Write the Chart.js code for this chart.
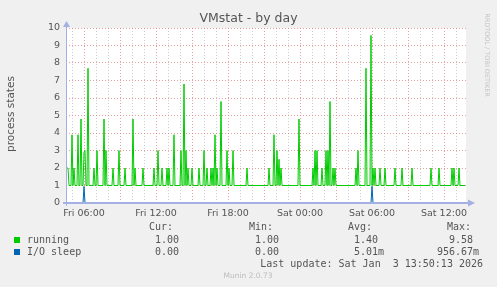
<!DOCTYPE html>
<html>
<head>
<meta charset="utf-8">
<script src="https://cdn.jsdelivr.net/npm/chart.js@4"></script>
<style>
  html, body { margin: 0; padding: 0; background: #f0f0f0; }
  canvas { display: block; }
</style>
</head>
<body>
<canvas id="chart" width="497" height="287"></canvas>
<script>
// one sample every 5 minutes, Fri 04:30 -> Sat 13:50 (400 samples)
const sampleCount = 400;

const xTickIdx = [18, 90, 162, 234, 306, 378];
const xTickLabels = ["Fri 06:00", "Fri 12:00", "Fri 18:00", "Sat 00:00", "Sat 06:00", "Sat 12:00"];

// running: sits at 1 with short spikes
const runningBase = 1;
const runningStartVals = [2, 2, 2];
const runningSpikeIdx = [6, 8, 12, 15, 18, 19, 22, 28, 31, 38, 40, 47, 53, 59, 67, 69, 77, 88, 92, 96,
  101, 103, 108, 115, 118, 120, 122, 126, 133, 138, 141, 145, 147, 149, 151, 155, 161, 163, 167, 181,
  203, 208, 211, 213, 215, 233, 247, 249, 251, 256, 260, 262, 264, 267, 269, 290, 292, 300, 305, 307,
  309, 314, 319, 329, 336, 346, 365, 373, 386, 388, 393];
const runningSpikeVal = [3.9, 2, 3.9, 4.8, 2.9, 3, 7.7, 2, 3, 4.8, 3, 2, 3, 2, 4.8, 2, 2, 2, 3, 2,
  2, 2, 3.9, 3, 6.8, 3, 2, 2, 2, 3, 2, 2, 2, 3.9, 2, 5.8, 3, 2, 3, 2,
  2, 3.9, 3, 2.5, 2, 4.8, 2, 3, 3, 2, 3, 3, 5.8, 2, 2, 2, 3, 7.7, 9.58, 2,
  2, 2, 2, 2, 2, 2, 2, 2, 2, 2, 2];

// I/O sleep: 0 with two spikes
const sleepBase = 0;
const sleepSpikeIdx = [18, 306];
const sleepSpikeVal = [0.95, 0.957];

const legendNames = ["running", "I/O sleep"];
const legendColors = ["#00cc00", "#0066b3"];
const legendCur = ["1.00", "0.00"];
const legendMin = ["1.00", "0.00"];
const legendAvg = ["1.40", "5.01m"];
const legendMax = ["  9.58", "956.67m"];

function buildSeries(base, startVals, idx, vals) {
  const out = [];
  for (let i = 0; i < sampleCount; i++) out.push({ x: i, y: base });
  startVals.forEach((v, i) => { out[i].y = v; });
  idx.forEach((p, k) => { out[p].y = vals[k]; });
  return out;
}

const hourTicks = [];
for (let i = 6; i < sampleCount; i += 12) hourTicks.push(i);

const majorGrid = "rgba(220,120,120,0.7)";
const minorGrid = "rgba(190,190,190,0.8)";
const axisColor = "#a4b0e4";
const textColor = "#555555";

const muninPlugin = {
  id: "munin",
  beforeDraw(chart) {
    const { ctx, chartArea: a } = chart;
    ctx.save();
    ctx.fillStyle = "#f0f0f0";
    ctx.fillRect(0, 0, chart.width, chart.height);
    ctx.fillStyle = "#ffffff";
    ctx.fillRect(a.left, a.top, a.right - a.left, a.bottom - a.top);
    ctx.restore();
  },
  afterDatasetsDraw(chart) {
    const { ctx, chartArea: a } = chart;
    ctx.save();
    ctx.strokeStyle = axisColor;
    ctx.fillStyle = axisColor;
    ctx.lineWidth = 2;
    ctx.beginPath();
    ctx.moveTo(a.left - 3, a.bottom);
    ctx.lineTo(a.right + 3, a.bottom);
    ctx.stroke();
    ctx.lineWidth = 1;
    ctx.beginPath();
    ctx.moveTo(a.left + 0.5, a.bottom + 3);
    ctx.lineTo(a.left + 0.5, a.top - 3);
    ctx.stroke();
    // arrows
    ctx.beginPath();
    ctx.moveTo(a.right + 9, a.bottom);
    ctx.lineTo(a.right + 2, a.bottom - 3.5);
    ctx.lineTo(a.right + 2, a.bottom + 3.5);
    ctx.closePath();
    ctx.fill();
    ctx.beginPath();
    ctx.moveTo(a.left + 0.5, a.top - 7);
    ctx.lineTo(a.left - 3, a.top - 1);
    ctx.lineTo(a.left + 4, a.top - 1);
    ctx.closePath();
    ctx.fill();
    ctx.restore();
  },
  afterDraw(chart) {
    const { ctx } = chart;
    ctx.save();
    ctx.fillStyle = textColor;
    ctx.textBaseline = "middle";

    ctx.font = "12.5px 'DejaVu Sans'";
    ctx.textAlign = "center";
    ctx.fillText("VMstat - by day", 248.5, 19);

    ctx.font = "10.5px 'DejaVu Sans'";
    ctx.save();
    ctx.translate(11, 114);
    ctx.rotate(-Math.PI / 2);
    ctx.fillText("process states", 0, 0);
    ctx.restore();

    ctx.fillStyle = "#c4c4c4";
    ctx.font = "6.5px 'DejaVu Sans'";
    ctx.save();
    ctx.translate(487, 55);
    ctx.rotate(Math.PI / 2);
    ctx.fillText("RRDTOOL / TOBI OETIKER", 0, 0);
    ctx.restore();

    // legend
    ctx.fillStyle = textColor;
    ctx.font = "10px 'DejaVu Sans Mono'";
    ctx.textAlign = "left";
    ctx.fillText("Cur:", 149, 227);
    ctx.fillText("Min:", 249, 227);
    ctx.fillText("Avg:", 348, 227);
    ctx.fillText("Max:", 447, 227);
    legendNames.forEach((name, i) => {
      const y = 240 + i * 12;
      ctx.fillStyle = legendColors[i];
      ctx.fillRect(14, y - 3, 6, 6);
      ctx.fillStyle = textColor;
      ctx.fillText(name, 27, y);
      ctx.fillText(legendCur[i], 155, y);
      ctx.fillText(legendMin[i], 255, y);
      ctx.fillText(legendAvg[i], 354, y);
      ctx.fillText(legendMax[i], 437, y);
    });
    ctx.textAlign = "right";
    ctx.fillText("Last update: Sat Jan  3 13:50:13 2026", 483, 264);

    ctx.fillStyle = "#bdbdbd";
    ctx.font = "7.5px 'DejaVu Sans'";
    ctx.textAlign = "center";
    ctx.fillText("Munin 2.0.73", 248, 276);
    ctx.restore();
  }
};

new Chart(document.getElementById("chart"), {
  type: "line",
  data: {
    datasets: [
      {
        label: "running",
        data: buildSeries(runningBase, runningStartVals, runningSpikeIdx, runningSpikeVal),
        borderColor: "#00cc00",
        borderWidth: 1,
        pointRadius: 0,
        tension: 0,
        fill: false,
      },
      {
        label: "I/O sleep",
        data: buildSeries(sleepBase, [], sleepSpikeIdx, sleepSpikeVal),
        borderColor: "#0066b3",
        borderWidth: 1,
        pointRadius: 0,
        tension: 0,
        fill: false,
      },
    ],
  },
  options: {
    responsive: false,
    animation: false,
    layout: { padding: { top: 28, right: 31, left: 0, bottom: 0 } },
    plugins: { legend: { display: false }, tooltip: { enabled: false } },
    scales: {
      x: {
        type: "linear",
        min: 0,
        max: sampleCount,
        afterBuildTicks: (scale) => { scale.ticks = hourTicks.map((v) => ({ value: v })); },
        afterFit: (scale) => { scale.height = 84; },
        ticks: {
          autoSkip: false,
          maxRotation: 0,
          padding: 5,
          color: textColor,
          font: { family: "DejaVu Sans", size: 9.5 },
          callback: (value) => {
            const k = xTickIdx.indexOf(value);
            return k >= 0 ? xTickLabels[k] : "";
          },
        },
        grid: {
          drawTicks: false,
          lineWidth: 1,
          color: (ctx) => ((ctx.tick.value - 18) % 36 === 0 ? majorGrid : minorGrid),
        },
        border: { display: false, dash: [1, 2] },
      },
      y: {
        min: 0,
        max: 10,
        afterFit: (scale) => { scale.width = 66; },
        ticks: {
          stepSize: 0.5,
          padding: 6,
          color: textColor,
          font: { family: "DejaVu Sans", size: 9.5 },
          callback: (value) => (value % 1 === 0 ? String(value) : ""),
        },
        grid: {
          drawTicks: false,
          lineWidth: 1,
          color: (ctx) => (ctx.tick.value % 1 === 0 ? majorGrid : minorGrid),
        },
        border: { display: false, dash: [1, 2] },
      },
    },
  },
  plugins: [muninPlugin],
});
</script>
</body>
</html>
